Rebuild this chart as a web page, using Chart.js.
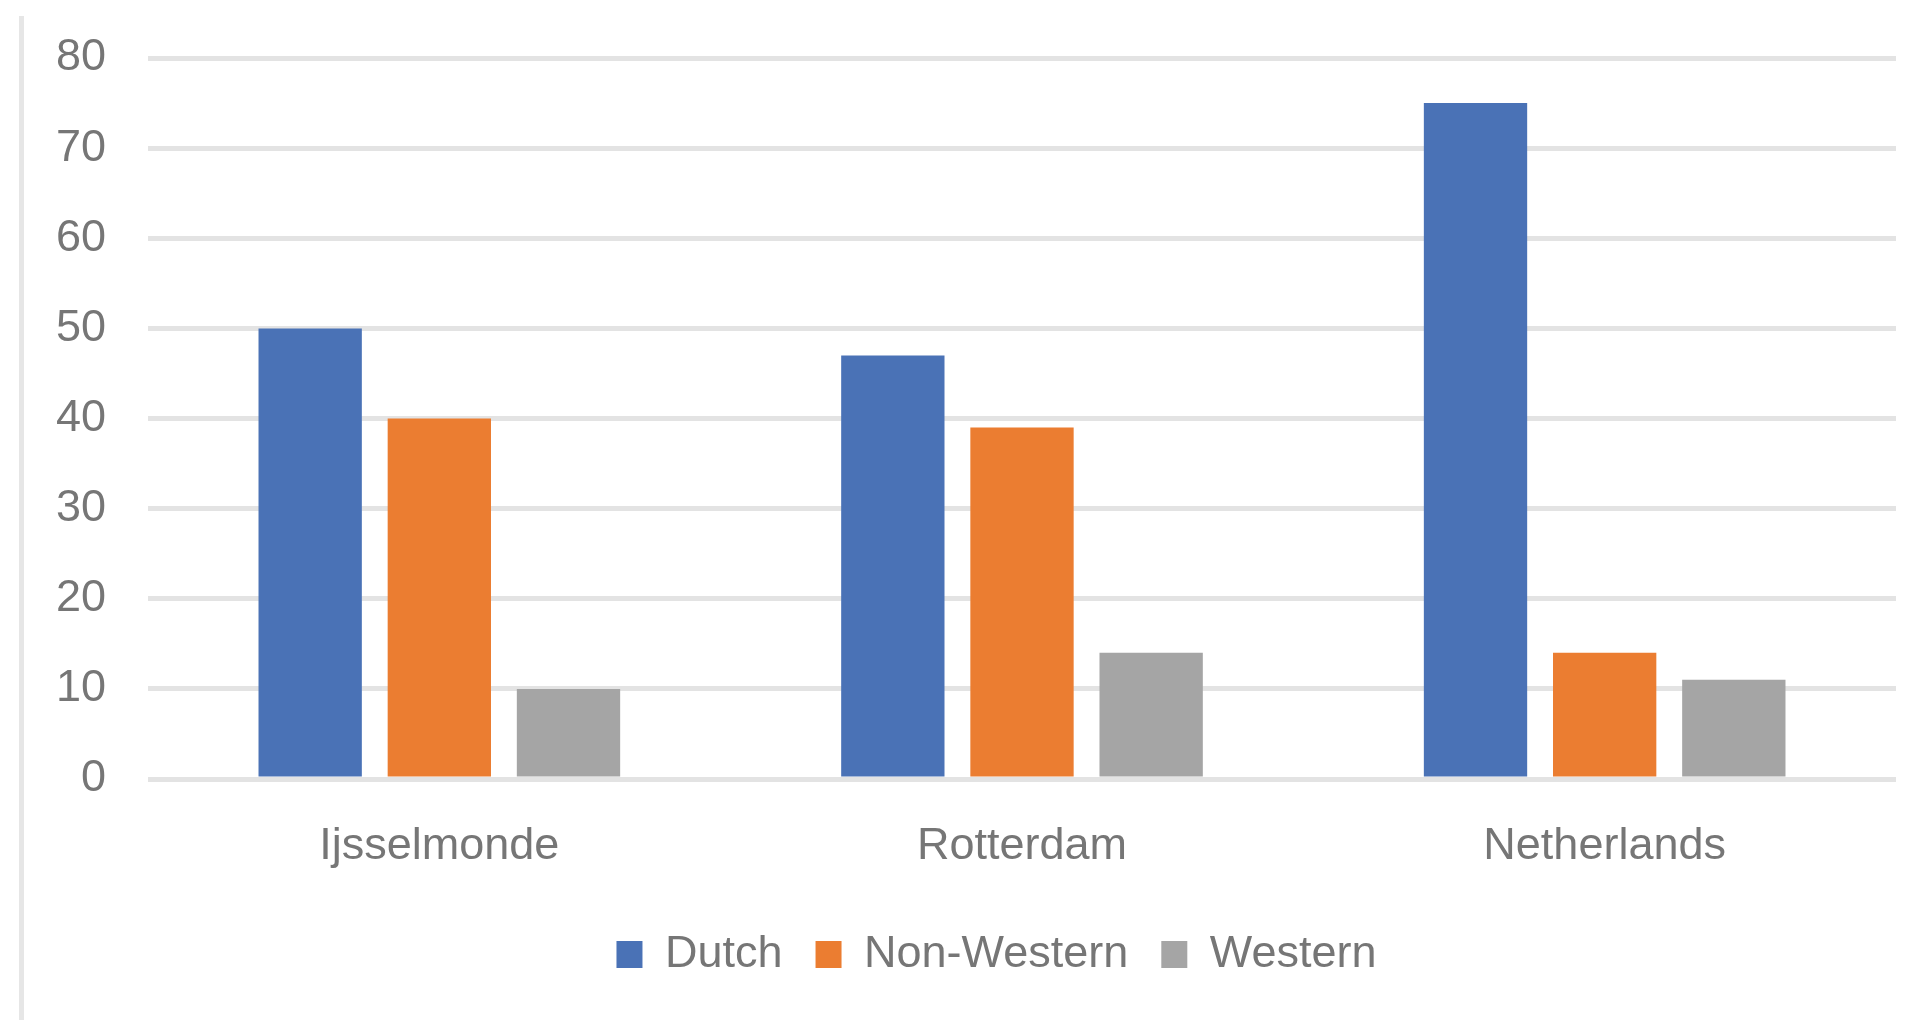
<!DOCTYPE html>
<html>
<head>
<meta charset="utf-8">
<script src="https://cdn.jsdelivr.net/npm/chart.js@4.4.0/dist/chart.umd.min.js"></script>
<style>
  body { margin: 0; background: #ffffff; }
</style>
</head>
<body>
<canvas id="myChart" width="1931" height="1020"></canvas>
<script>
// data
const areas = ["Ijsselmonde", "Rotterdam", "Netherlands"];
const dutch = [50, 47, 75];
const nonWestern = [40, 39, 14];
const western = [10, 14, 11];
const yMin = 0, yMax = 80, yStep = 10;

// thin frame line on the left edge
const leftLine = {
    id: 'leftLine',
    beforeDraw(chart) {
        const c = chart.ctx;
        c.save();
        c.fillStyle = '#e6e6e6';
        c.fillRect(19, 16, 5, 1004);
        c.restore();
    }
};

// legend sits a bit right of the page centre in the original
const legendShift = {
    id: 'legendShift',
    afterLayout(chart) {
        chart.legend.left += 20;
        chart.legend.right += 20;
    }
};

Chart.defaults.font.family = "'Liberation Sans', Arial, sans-serif";
Chart.defaults.font.size = 45;
Chart.defaults.color = '#767676';

const ctx = document.getElementById('myChart').getContext('2d');
const myChart = new Chart(ctx, {
    type: 'bar',
    data: {
        labels: areas,
        datasets: [
            { label: 'Dutch', data: dutch, backgroundColor: '#4a72b6' },
            { label: 'Non-Western', data: nonWestern, backgroundColor: '#eb7d31' },
            { label: 'Western', data: western, backgroundColor: '#a5a5a5' }
        ]
    },
    options: {
        responsive: false,
        animation: false,
        categoryPercentage: 0.665,
        barPercentage: 0.8,
        layout: { padding: { left: 57, right: 35, top: 58, bottom: 33 } },
        plugins: {
            tooltip: { enabled: false },
            legend: {
                position: 'bottom',
                labels: { boxWidth: 26, boxHeight: 27, padding: 33, color: '#767676' }
            }
        },
        scales: {
            x: {
                grid: { display: false, drawTicks: false },
                border: { display: false },
                ticks: { padding: 41 },
                afterFit(scale) { scale.height = 120; }
            },
            y: {
                min: yMin,
                max: yMax,
                ticks: { stepSize: yStep, padding: 42 },
                grid: { color: '#e3e3e3', lineWidth: 5, drawTicks: false },
                border: { display: false },
                afterFit(scale) {
                    scale.width = 91;
                    scale.paddingTop = 0;
                    scale.paddingBottom = 0;
                }
            }
        }
    },
    plugins: [leftLine, legendShift]
});
</script>
</body>
</html>
